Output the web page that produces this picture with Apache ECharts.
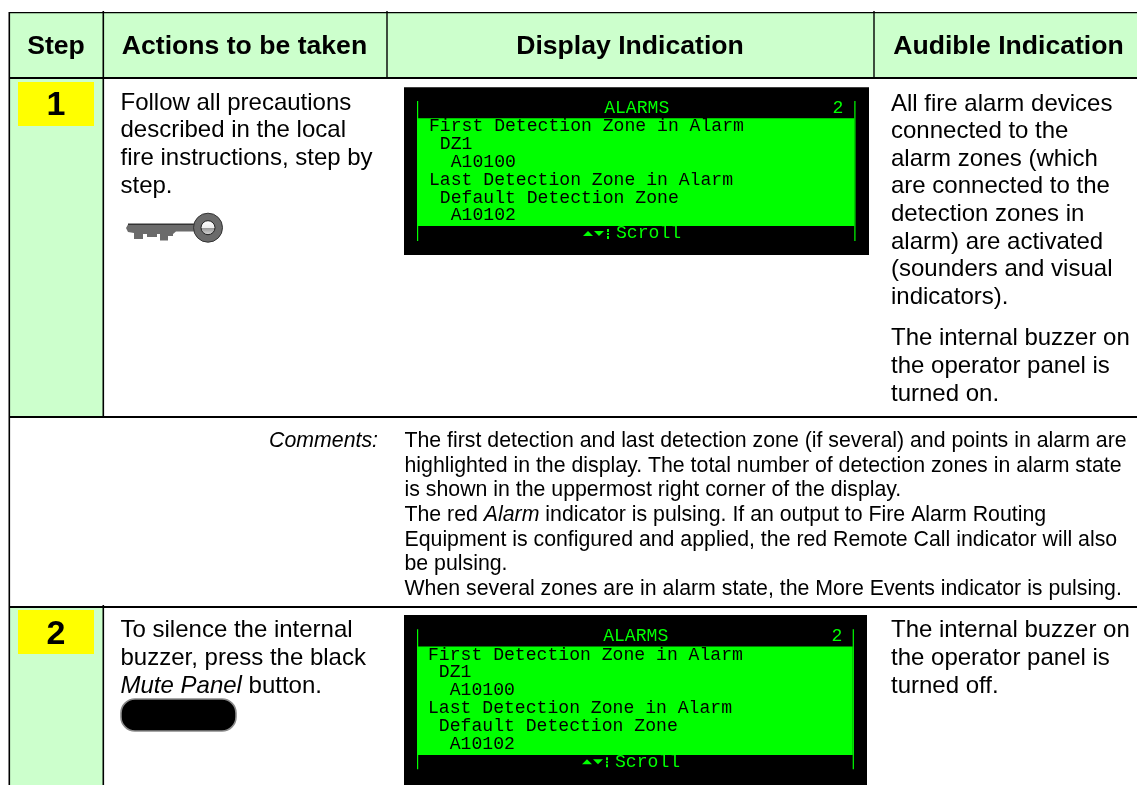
<!DOCTYPE html>
<html><head><meta charset="utf-8">
<style>html,body{margin:0;padding:0;background:#fff}#c{width:1137px;height:785px}</style>
<script src="https://cdn.jsdelivr.net/npm/echarts@6/dist/echarts.min.js"></script>
</head><body><div id="c"></div>
<script>
const headers = ['Step', 'Actions to be taken', 'Display Indication', 'Audible Indication'];
const stepNumbers = ['1', '2'];
const actionsOne = ['Follow all precautions', 'described in the local', 'fire instructions, step by', 'step.'];
const actionsTwo = ['To silence the internal', 'buzzer, press the black', '*Mute Panel* button.'];
const audibleOneA = ['All fire alarm devices', 'connected to the', 'alarm zones (which', 'are connected to the', 'detection zones in', 'alarm) are activated', '(sounders and visual', 'indicators).'];
const audibleOneB = ['The internal buzzer on', 'the operator panel is', 'turned on.'];
const audibleTwo = ['The internal buzzer on', 'the operator panel is', 'turned off.'];
const commentsLabel = 'Comments:';
const comments = [
  'The first detection and last detection zone (if several) and points in alarm are',
  'highlighted in the display. The total number of detection zones in alarm state',
  'is shown in the uppermost right corner of the display.',
  'The red *Alarm* indicator is pulsing. If an output to Fire Alarm Routing',
  'Equipment is configured and applied, the red Remote Call indicator will also',
  'be pulsing.',
  'When several zones are in alarm state, the More Events indicator is pulsing.'
];
const lcdTitle = 'ALARMS';
const lcdCount = '2';
const lcdLines = ['First Detection Zone in Alarm', ' DZ1', '  A10100', 'Last Detection Zone in Alarm', ' Default Detection Zone', '  A10102'];
const lcdFooter = 'Scroll';

const SANS = '"Liberation Sans", Arial, sans-serif';
const MONO = '"Liberation Mono", monospace';
const G = [];
const ctx = document.createElement('canvas').getContext('2d');

function font(size, weight, style) { return (style || 'normal') + ' ' + (weight || 'normal') + ' ' + size + 'px ' + SANS; }
function text(x, base, str, f, size, fill, align) {
  G.push({ type: 'text', silent: true, style: { x: x, y: base - 0.3465 * size, text: str, font: f, fill: fill || '#000', align: align || 'left', verticalAlign: 'middle' } });
}
// A line may hold *italic* runs; each run is placed after the measured width of the one before it.
function line(x, base, str, size) {
  str.split('*').forEach(function (run, i) {
    if (!run) return;
    const f = font(size, 'normal', i % 2 ? 'italic' : 'normal');
    text(x, base, run, f, size);
    ctx.font = f;
    x += ctx.measureText(run).width;
  });
}
function block(x, base, pitch, lines, size) { lines.forEach(function (l, i) { line(x, base + i * pitch, l, size); }); }
function rect(x, y, w, h, fill) { G.push({ type: 'rect', silent: true, shape: { x: x, y: y, width: w, height: h }, style: { fill: fill } }); }

const PALE = '#CCFFCC', RULE = '#000';
// cell fills
rect(10, 12, 1127, 66, PALE);
rect(10, 78, 93, 339, PALE);
rect(10, 607, 93, 178, PALE);
rect(18, 82, 76, 44, '#FFFF00');
rect(18, 610, 76, 44, '#FFFF00');
// rules
rect(9, 12, 1128, 1.3, RULE);
rect(9, 77, 1128, 2, RULE);
rect(9, 416, 1128, 2, RULE);
rect(9, 606, 1128, 2, RULE);
rect(8.5, 12, 1.6, 773, RULE);
rect(102.5, 11, 1.6, 406, RULE);
rect(102.5, 605, 1.6, 180, RULE);
rect(386.3, 11, 1.4, 67, RULE);
rect(873.3, 11, 1.4, 67, RULE);

// header
const HS = 26.6, HB = 56.2;
const hf = font(HS, 'bold');
text(56, HB, headers[0], hf, HS, '#000', 'center');
text(244.5, HB, headers[1], hf, HS, '#000', 'center');
text(630, HB, headers[2], hf, HS, '#000', 'center');
text(1008.5, HB, headers[3], hf, HS, '#000', 'center');
// step numbers
text(56, 117.7, stepNumbers[0], font(34, 'bold'), 34, '#000', 'center');
text(56, 646, stepNumbers[1], font(34, 'bold'), 34, '#000', 'center');
// body
const BS = 24;
block(120.5, 111.5, 27.6, actionsOne, BS);
block(120.5, 639, 27.6, actionsTwo, BS);
block(891, 112.2, 27.6, audibleOneA, BS);
block(891, 347, 27.8, audibleOneB, BS);
block(891, 639, 27.6, audibleTwo, BS);
// comments
const CS = 21.3;
text(378, 448.5, commentsLabel, font(CS, 'normal', 'italic'), CS, '#000', 'right');
block(404.5, 448.7, 24.6, comments, CS);

// display panels
function lcd(x0, y0, w, h, dx, dy, greenW) {
  const LIME = '#00FF00';
  rect(x0, y0, w, h, '#000');
  rect(417.3, 118.3 + dy, greenW, 107.7 + (dy ? 0.6 : 0), LIME);
  rect(417, 101 + dy, 1.2, 140, LIME);
  rect(417 + greenW + 0.3, 101 + dy, 1.2, 140, LIME);
  const mf = 'normal normal 18.1px ' + MONO;
  G.push({ type: 'text', silent: true, style: { x: 636.7 + dx, y: 108 + dy, text: lcdTitle, font: mf, fill: LIME, align: 'center', verticalAlign: 'middle' } });
  G.push({ type: 'text', silent: true, style: { x: 838 + dx, y: 108 + dy, text: lcdCount, font: mf, fill: LIME, align: 'center', verticalAlign: 'middle' } });
  lcdLines.forEach(function (l, i) {
    G.push({ type: 'text', silent: true, style: { x: 429 + dx, y: 126.6 + dy + i * 17.8, text: l, font: mf, fill: '#000', align: 'left', verticalAlign: 'middle' } });
  });
  G.push({ type: 'text', silent: true, style: { x: 616 + dx, y: 233.5 + dy, text: lcdFooter, font: mf, fill: LIME, align: 'left', verticalAlign: 'middle' } });
  // scroll arrows
  [[583, 236, 593, 236, 588, 231], [594, 231, 604, 231, 599, 236]].forEach(function (p) {
    G.push({ type: 'polygon', silent: true, shape: { points: [[p[0] + dx, p[1] + dy], [p[2] + dx, p[3] + dy], [p[4] + dx, p[5] + dy]] }, style: { fill: LIME } });
  });
  rect(607 + dx, 229 + dy, 2, 3, LIME);
  rect(607 + dx, 233 + dy, 2, 2, LIME);
  rect(607 + dx, 236 + dy, 2, 3, LIME);
}
lcd(404, 87.3, 465, 167.7, 0, 0, 437);
lcd(404, 615, 463, 170, -1, 528.3, 435.4);

// key icon
const KEY = '#6B6B6B';
G.push({ type: 'polygon', silent: true, shape: { points: [[128, 224.5], [195, 224.5], [195, 231.5], [176, 231.5], [173, 234], [173, 236], [168, 236], [168, 240.5], [160, 240.5], [160, 234], [157, 234], [157, 237], [147, 237], [147, 234], [143, 234], [143, 239], [134, 239], [134, 233], [128, 232], [126, 228]] }, style: { fill: KEY } });
rect(128, 223.5, 67, 1.4, '#333');
G.push({ type: 'circle', silent: true, shape: { cx: 208, cy: 227.7, r: 14.5 }, style: { fill: KEY, stroke: '#333', lineWidth: 1 } });
G.push({ type: 'circle', silent: true, shape: { cx: 208, cy: 227.7, r: 7 }, style: { stroke: '#222', lineWidth: 1, fill: { type: 'linear', x: 0, y: 0, x2: 0, y2: 1, colorStops: [{ offset: 0, color: '#fff' }, { offset: 0.5, color: '#eee' }, { offset: 0.55, color: '#999' }, { offset: 1, color: '#ddd' }] } } });

// mute button icon
G.push({ type: 'rect', silent: true, shape: { x: 121, y: 699, width: 115, height: 32, r: 14 }, style: { fill: '#000', stroke: '#8a8a8a', lineWidth: 1.6 } });

const chart = echarts.init(document.getElementById('c'), null, { renderer: 'canvas', width: 1137, height: 785 });
chart.setOption({ animation: false, backgroundColor: '#fff', graphic: { elements: G } });
</script></body></html>
